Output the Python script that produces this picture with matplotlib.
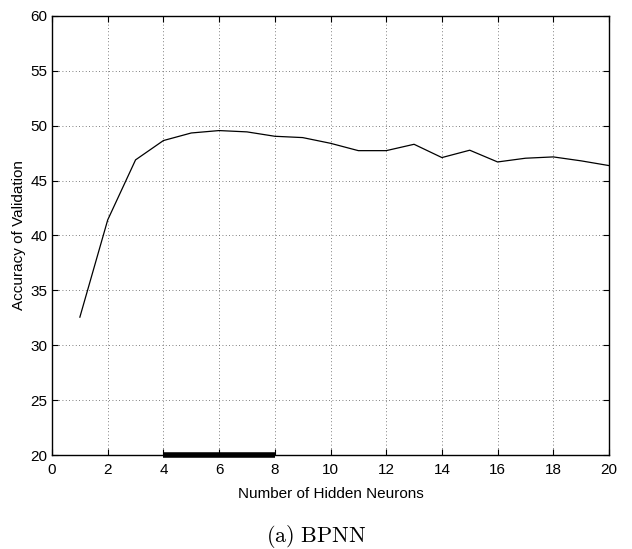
import matplotlib
matplotlib.use("Agg")
import matplotlib.pyplot as plt

plt.rcParams['font.family'] = ['Liberation Sans', 'DejaVu Sans']
plt.rcParams['mathtext.fontset'] = 'cm'

neurons = list(range(1, 21))
accuracy = [32.56, 41.42, 46.89, 48.65, 49.34, 49.56, 49.44, 49.04, 48.92, 48.4,
            47.73, 47.73, 48.31, 47.1, 47.77, 46.7, 47.04, 47.16, 46.8, 46.37]
best_range = [4, 8]
best_level = [20, 20]

fig = plt.figure(figsize=(6.32, 5.49), dpi=100)
ax = fig.add_axes([0.0823, 0.1712, 0.8813, 0.7997])

ax.plot(neurons, accuracy, color='black', lw=0.9)
ax.plot(best_range, best_level, color='black', lw=4, solid_capstyle='butt', clip_on=False)

ax.set_xlim(0, 20)
ax.set_ylim(20, 60)
ax.set_xticks(range(0, 21, 2))
ax.set_yticks(range(20, 61, 5))
ax.tick_params(direction='in', top=True, right=True, labelsize=11, length=4, width=0.8)
ax.tick_params(axis='x', pad=6)
ax.grid(True, linestyle=(0, (1, 3)), color='#555555', lw=0.6)
for s in ax.spines.values():
    s.set_linewidth(1.0)

ax.set_xlabel("Number of Hidden Neurons", fontsize=11, labelpad=7)
ax.set_ylabel("Accuracy of Validation", fontsize=11, labelpad=3)

fig.text(0.5, 1 - 537 / 549, r"$\mathrm{(a)\ BPNN}$", ha='center', va='center', fontsize=16)

fig.savefig("out.png", dpi=100)
